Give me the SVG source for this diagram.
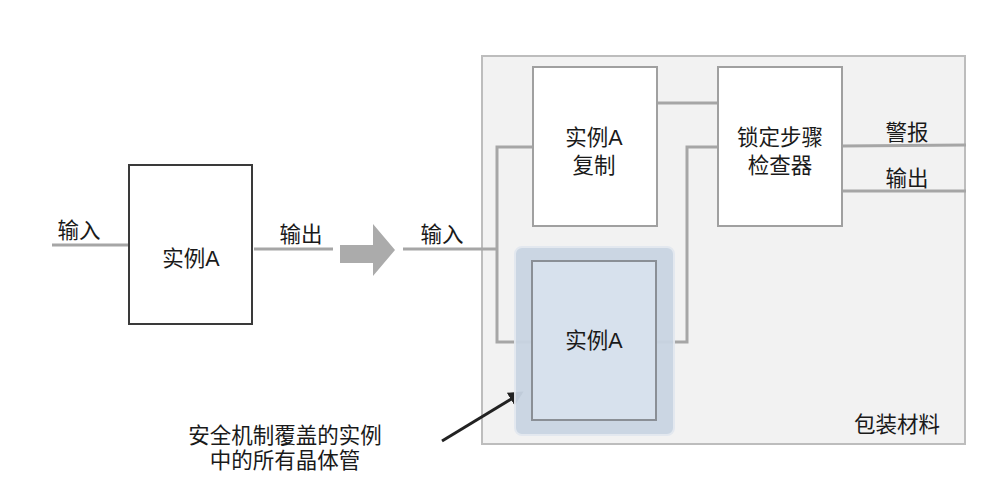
<svg xmlns="http://www.w3.org/2000/svg" width="991" height="504" viewBox="0 0 991 504">
<style>
text{font-family:"Liberation Sans","Noto Sans CJK SC",sans-serif;font-size:21.5px;fill:#1a1a1a;text-anchor:middle}
.w{stroke:#a6a6a6;stroke-width:3;fill:none}
.box{fill:#fff;stroke:#a0a0a0;stroke-width:2}
</style>
<defs>
<marker id="ah" viewBox="0 0 10 10" refX="8" refY="5" markerWidth="5" markerHeight="5" orient="auto" markerUnits="strokeWidth">
<path d="M0,0 L10,5 L0,10 z" fill="#222"/>
</marker>
</defs>
<rect width="991" height="504" fill="#fff"/>
<g id="package">
<rect x="482" y="56" width="483" height="388" fill="#f2f2f2" stroke="#bdbdbd" stroke-width="2"/>
<text x="897" y="432">包装材料</text>
</g>
<g id="connectors">
<line class="w" x1="52" y1="245" x2="129" y2="245"/>
<line class="w" x1="254" y1="249" x2="333" y2="249"/>
<path d="M340,245 H373 V224 L395,250 L373,276 V263 H340 Z" fill="#ababab"/>
<line class="w" x1="403" y1="249" x2="497" y2="249"/>
<polyline class="w" points="533,147 497,147 497,342 532,342"/>
<polyline class="w" points="656,342 687,342 687,147 718,147"/>
<line class="w" x1="657" y1="103" x2="718" y2="103"/>
<line class="w" x1="842" y1="146" x2="966" y2="145"/>
<line class="w" x1="842" y1="191" x2="966" y2="191"/>
<line x1="442" y1="441" x2="521" y2="393" stroke="#222" stroke-width="3" marker-end="url(#ah)"/>
</g>
<g id="lbl">
<text x="79" y="238">输入</text>
<text x="301" y="242">输出</text>
<text x="442" y="242">输入</text>
<text x="907" y="140">警报</text>
<text x="907" y="186">输出</text>
<text x="285" y="443">安全机制覆盖的实例</text>
<text x="285" y="468">中的所有晶体管</text>
</g>
<g id="instanceA_left">
<rect x="129" y="165" width="123" height="159" fill="#fff" stroke="#3a3a3a" stroke-width="2"/>
<text x="191" y="266">实例A</text>
</g>
<g id="replica">
<rect class="box" x="533" y="67" width="124" height="159"/>
<text x="594" y="145">实例A</text>
<text x="594" y="173">复制</text>
</g>
<g id="checker">
<rect class="box" x="718" y="67" width="124" height="159"/>
<text x="780" y="145">锁定步骤</text>
<text x="780" y="173">检查器</text>
</g>
<g id="instanceA_right">
<rect x="515" y="247" width="159" height="188" rx="7" fill="#c9d5e3" stroke="#e3e8ef" stroke-width="2" opacity="0.95"/>
<rect x="532" y="261" width="124" height="159" fill="#d7e1ed" stroke="#8a8f96" stroke-width="2"/>
<text x="594" y="348">实例A</text>
</g>
</svg>
